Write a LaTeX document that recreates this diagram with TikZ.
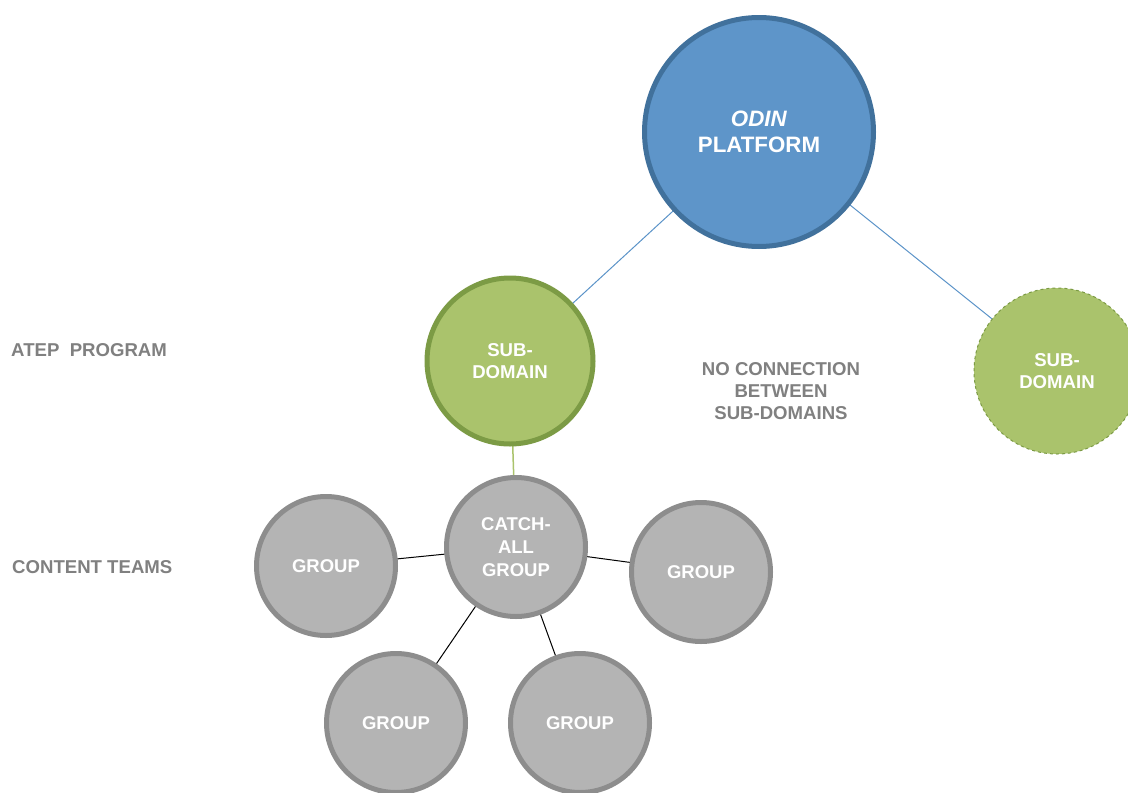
\documentclass[tikz,border=0pt]{standalone}
\usepackage{fontspec}
\setmainfont{Liberation Sans}
\usetikzlibrary{backgrounds}
\definecolor{bluefill}{HTML}{5E95C9}
\definecolor{blueedge}{HTML}{41719C}
\definecolor{blueline}{HTML}{5B93C8}
\definecolor{greenfill}{HTML}{AAC36C}
\definecolor{greenedge}{HTML}{7C9B45}
\definecolor{grayfill}{HTML}{B4B4B4}
\definecolor{grayedge}{HTML}{8D8D8D}
\definecolor{labelgray}{HTML}{808080}
\tikzset{
  bubble/.style={circle, inner sep=0pt, align=center, text=white, font=\bfseries},
  platform/.style={bubble, fill=bluefill, draw=blueedge, line width=5pt, minimum size=229pt, font=\bfseries\fontsize{22.3}{26}\selectfont},
  subdom/.style={bubble, fill=greenfill, draw=greenedge, line width=5pt, minimum size=166pt, font=\bfseries\fontsize{18.6}{22.5}\selectfont},
  subdomdash/.style={bubble, fill=greenfill, draw=greenedge, line width=1pt, dashed, minimum size=166pt, font=\bfseries\fontsize{18.6}{22.5}\selectfont},
  grp/.style={bubble, fill=grayfill, draw=grayedge, line width=5pt, minimum size=139pt, font=\bfseries\fontsize{18.5}{23}\selectfont},
  sidelabel/.style={text=labelgray, inner sep=0pt, font=\bfseries\fontsize{18.6}{22}\selectfont, align=center},
  bline/.style={blueline, line width=1pt},
  gline/.style={greenfill, line width=1.5pt},
  kline/.style={black, line width=1pt}
}
\begin{document}
\begin{tikzpicture}[x=1pt,y=-1pt]
\useasboundingbox (0,0) rectangle (1128,793);
\node[platform] (odin) at (759,132) {\textit{ODIN}\\PLATFORM};
\node[subdom] (sdl) at (510,361) {SUB-\\DOMAIN};
\node[subdomdash] (sdr) at (1057,371) {SUB-\\DOMAIN};
\node[grp] (catch) at (516,547) {CATCH-\\ALL\\GROUP};
\node[grp] (g1) at (326,566) {GROUP};
\node[grp] (g2) at (701,572) {GROUP};
\node[grp] (g3) at (396,723) {GROUP};
\node[grp] (g4) at (580,723) {GROUP};
\node[sidelabel, anchor=west] (atep) at (11,350) {ATEP\ \ PROGRAM};
\node[sidelabel, anchor=west] (ct) at (12,567) {CONTENT TEAMS};
\node[sidelabel] (nc) at (781,391) {NO CONNECTION\\BETWEEN\\SUB-DOMAINS};
\begin{scope}[on background layer]
\draw[bline] (odin.center) -- (sdl.center);
\draw[bline] (odin.center) -- (sdr.center);
\draw[gline] (sdl.center) -- (catch.center);
\draw[kline] (catch.center) -- (g1.center);
\draw[kline] (catch.center) -- (g2.center);
\draw[kline] (catch.center) -- (g3.center);
\draw[kline] (catch.center) -- (g4.center);
\end{scope}
\end{tikzpicture}
\end{document}
